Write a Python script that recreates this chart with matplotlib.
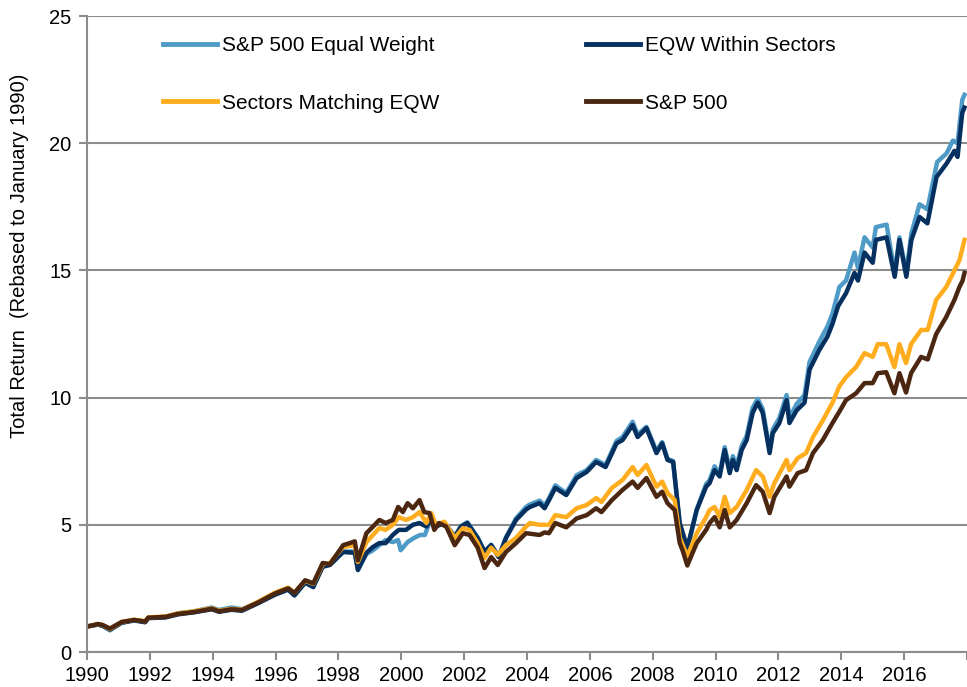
import matplotlib.pyplot as plt

plt.rcParams['font.family'] = ['Liberation Sans', 'DejaVu Sans']

# S&P 500 Equal Weight
ew_years = [1990.0, 1990.35, 1990.5, 1990.73, 1991.1, 1991.5, 1991.85, 1991.95, 1992.5, 1992.9,
            1993.4, 1993.97, 1994.2, 1994.6, 1994.93, 1995.45, 1995.98, 1996.4, 1996.6, 1996.94,
            1997.2, 1997.5, 1997.73, 1998.15, 1998.52, 1998.62, 1998.89, 1999.1, 1999.3, 1999.5,
            1999.73, 1999.9, 1999.98, 2000.2, 2000.4, 2000.6, 2000.75, 2000.95, 2001.1, 2001.37,
            2001.7, 2001.9, 2002.1, 2002.43, 2002.65, 2002.86, 2003.1, 2003.33, 2003.65, 2003.97,
            2004.09, 2004.4, 2004.56, 2004.7, 2004.9, 2005.25, 2005.58, 2005.9, 2006.2, 2006.5,
            2006.85, 2007.04, 2007.36, 2007.52, 2007.8, 2008.12, 2008.3, 2008.47, 2008.65, 2008.86,
            2009.1, 2009.4, 2009.7, 2009.81, 2009.97, 2010.13, 2010.29, 2010.45, 2010.55, 2010.67,
            2010.83, 2010.99, 2011.18, 2011.34, 2011.5, 2011.72, 2011.82, 2012.03, 2012.26, 2012.35,
            2012.58, 2012.83, 2012.99, 2013.3, 2013.56, 2013.72, 2013.94, 2014.15, 2014.42, 2014.53,
            2014.74, 2015.0, 2015.1, 2015.44, 2015.7, 2015.85, 2016.07, 2016.23, 2016.49, 2016.74,
            2017.05, 2017.35, 2017.55, 2017.7, 2017.85, 2017.92]
ew_vals = [1.0, 1.08, 1.03, 0.85, 1.15, 1.25, 1.18, 1.35, 1.38, 1.52,
           1.6, 1.75, 1.65, 1.75, 1.68, 1.95, 2.3, 2.5, 2.28, 2.75,
           2.6, 3.4, 3.45, 3.95, 3.95, 3.25, 3.85, 4.0, 4.2, 4.4,
           4.32, 4.4, 4.0, 4.32, 4.48, 4.6, 4.6, 5.26, 4.95, 5.1,
           4.55, 4.95, 5.1, 4.5, 3.95, 4.22, 3.75, 4.5, 5.25, 5.7,
           5.8, 5.95, 5.75, 6.05, 6.55, 6.25, 6.95, 7.15, 7.55, 7.35,
           8.3, 8.45, 9.05, 8.55, 8.85, 7.9, 8.25, 7.6, 7.5, 5.0,
           4.0, 5.6, 6.6, 6.75, 7.3, 7.0, 8.05, 7.15, 7.7, 7.3,
           8.1, 8.5, 9.6, 9.95, 9.55, 7.95, 8.75, 9.2, 10.1, 9.2,
           9.75, 10.1, 11.4, 12.2, 12.8, 13.3, 14.35, 14.6, 15.7, 15.1,
           16.3, 15.9, 16.7, 16.8, 14.9, 16.3, 14.9, 16.45, 17.6, 17.4,
           19.26, 19.6, 20.1, 20.0, 21.7, 21.9]

# EQW Within Sectors
ws_years = [1990.0, 1990.35, 1990.5, 1990.73, 1991.1, 1991.5, 1991.85, 1991.95, 1992.5, 1992.9,
            1993.4, 1993.97, 1994.2, 1994.6, 1994.93, 1995.45, 1995.98, 1996.4, 1996.6, 1996.94,
            1997.2, 1997.5, 1997.73, 1998.15, 1998.52, 1998.62, 1998.89, 1999.1, 1999.3, 1999.5,
            1999.73, 1999.92, 2000.15, 2000.37, 2000.58, 2000.8, 2000.95, 2001.1, 2001.37, 2001.7,
            2001.9, 2002.1, 2002.43, 2002.65, 2002.86, 2003.1, 2003.33, 2003.65, 2003.97, 2004.09,
            2004.4, 2004.56, 2004.7, 2004.9, 2005.25, 2005.58, 2005.9, 2006.2, 2006.5, 2006.85,
            2007.04, 2007.36, 2007.52, 2007.8, 2008.12, 2008.3, 2008.47, 2008.65, 2008.86, 2009.1,
            2009.4, 2009.7, 2009.81, 2009.97, 2010.13, 2010.29, 2010.45, 2010.55, 2010.67, 2010.83,
            2010.99, 2011.18, 2011.34, 2011.5, 2011.72, 2011.82, 2012.03, 2012.26, 2012.35, 2012.58,
            2012.83, 2012.99, 2013.3, 2013.56, 2013.72, 2013.9, 2014.15, 2014.42, 2014.53, 2014.74,
            2015.0, 2015.1, 2015.44, 2015.7, 2015.85, 2016.07, 2016.23, 2016.49, 2016.74, 2017.03,
            2017.35, 2017.6, 2017.7, 2017.85, 2017.92]
ws_vals = [1.0, 1.08, 1.03, 0.88, 1.15, 1.24, 1.17, 1.33, 1.36, 1.48,
           1.56, 1.68, 1.58, 1.66, 1.62, 1.92, 2.25, 2.45, 2.22, 2.72,
           2.55, 3.35, 3.42, 3.93, 3.9, 3.22, 3.9, 4.13, 4.28, 4.28,
           4.6, 4.8, 4.8, 5.0, 5.07, 4.93, 5.26, 4.93, 5.07, 4.52,
           4.93, 5.07, 4.48, 3.93, 4.2, 3.73, 4.48, 5.19, 5.6, 5.7,
           5.85, 5.65, 5.97, 6.45, 6.17, 6.84, 7.08, 7.47, 7.27, 8.2,
           8.33, 8.92, 8.45, 8.8, 7.82, 8.2, 7.55, 7.47, 5.07, 4.1,
           5.58, 6.5, 6.64, 7.15, 6.9, 7.94, 7.03, 7.55, 7.15, 7.94,
           8.33, 9.4, 9.8, 9.4, 7.82, 8.6, 9.0, 9.9, 9.0, 9.5,
           9.8, 11.1, 11.87, 12.4, 12.9, 13.6, 14.1, 14.9, 14.6, 15.7,
           15.3, 16.2, 16.3, 14.75, 16.2, 14.75, 16.2, 17.1, 16.85, 18.67,
           19.2, 19.7, 19.46, 21.2, 21.4]

# Sectors Matching EQW
sm_years = [1990.0, 1990.35, 1990.5, 1990.73, 1991.1, 1991.5, 1991.85, 1991.95, 1992.5, 1992.9,
            1993.4, 1993.97, 1994.2, 1994.6, 1994.93, 1995.45, 1995.98, 1996.4, 1996.6, 1996.94,
            1997.2, 1997.5, 1997.73, 1998.15, 1998.52, 1998.62, 1998.89, 1999.1, 1999.3, 1999.5,
            1999.73, 1999.92, 2000.15, 2000.37, 2000.58, 2000.8, 2000.95, 2001.1, 2001.37, 2001.7,
            2001.96, 2002.17, 2002.43, 2002.65, 2002.86, 2003.07, 2003.33, 2003.65, 2003.97, 2004.09,
            2004.4, 2004.7, 2004.9, 2005.25, 2005.58, 2005.9, 2006.2, 2006.37, 2006.7, 2007.04,
            2007.36, 2007.52, 2007.8, 2008.12, 2008.3, 2008.47, 2008.7, 2008.86, 2009.1, 2009.4,
            2009.7, 2009.81, 2009.97, 2010.13, 2010.29, 2010.45, 2010.67, 2010.99, 2011.29, 2011.5,
            2011.72, 2011.87, 2012.26, 2012.35, 2012.61, 2012.88, 2013.1, 2013.41, 2013.72, 2013.94,
            2014.15, 2014.47, 2014.74, 2015.0, 2015.16, 2015.43, 2015.69, 2015.85, 2016.06, 2016.22,
            2016.54, 2016.75, 2017.02, 2017.34, 2017.6, 2017.76, 2017.92]
sm_vals = [1.0, 1.1, 1.06, 0.9, 1.18, 1.27, 1.21, 1.36, 1.4, 1.52,
           1.6, 1.72, 1.62, 1.7, 1.66, 1.98, 2.33, 2.53, 2.33, 2.8,
           2.68, 3.45, 3.5, 4.13, 4.2, 3.54, 4.32, 4.6, 4.87, 4.8,
           5.0, 5.3, 5.19, 5.3, 5.5, 5.07, 5.46, 5.0, 5.12, 4.48,
           4.87, 4.8, 4.28, 3.7, 4.1, 3.82, 4.2, 4.48, 4.93, 5.07,
           5.0, 5.0, 5.38, 5.3, 5.65, 5.78, 6.05, 5.9, 6.45, 6.76,
           7.27, 6.96, 7.35, 6.5, 6.7, 6.25, 5.97, 4.5, 3.75, 4.67,
           5.3, 5.58, 5.7, 5.3, 6.1, 5.46, 5.7, 6.37, 7.15, 6.9,
           6.1, 6.64, 7.55, 7.15, 7.62, 7.82, 8.45, 9.1, 9.8, 10.45,
           10.8, 11.2, 11.75, 11.6, 12.1, 12.1, 11.2, 12.1, 11.36, 12.1,
           12.66, 12.66, 13.84, 14.35, 15.0, 15.4, 16.2]

# S&P 500
sp_years = [1990.0, 1990.35, 1990.5, 1990.73, 1991.1, 1991.5, 1991.85, 1991.95, 1992.5, 1992.9,
            1993.4, 1993.97, 1994.2, 1994.6, 1994.93, 1995.45, 1995.98, 1996.4, 1996.6, 1996.94,
            1997.2, 1997.5, 1997.73, 1998.15, 1998.36, 1998.52, 1998.62, 1998.89, 1999.1, 1999.3,
            1999.5, 1999.73, 1999.9, 2000.05, 2000.2, 2000.37, 2000.58, 2000.73, 2000.9, 2001.05,
            2001.2, 2001.43, 2001.7, 2001.96, 2002.17, 2002.43, 2002.65, 2002.86, 2003.07, 2003.33,
            2003.65, 2003.97, 2004.4, 2004.56, 2004.7, 2004.9, 2005.25, 2005.58, 2005.9, 2006.2,
            2006.37, 2006.7, 2007.04, 2007.36, 2007.52, 2007.8, 2008.12, 2008.3, 2008.47, 2008.7,
            2008.86, 2008.95, 2009.1, 2009.4, 2009.7, 2009.81, 2009.97, 2010.13, 2010.29, 2010.45,
            2010.67, 2010.99, 2011.29, 2011.5, 2011.72, 2011.87, 2012.26, 2012.35, 2012.61, 2012.88,
            2013.1, 2013.41, 2013.72, 2013.94, 2014.15, 2014.47, 2014.74, 2015.0, 2015.16, 2015.43,
            2015.69, 2015.85, 2016.06, 2016.22, 2016.54, 2016.75, 2017.02, 2017.34, 2017.6, 2017.76,
            2017.86, 2017.92]
sp_vals = [1.0, 1.1, 1.06, 0.92, 1.18, 1.26, 1.2, 1.35, 1.38, 1.5,
           1.57, 1.7, 1.6, 1.68, 1.65, 1.95, 2.3, 2.5, 2.32, 2.82,
           2.7, 3.5, 3.45, 4.2, 4.28, 4.35, 3.6, 4.67, 4.93, 5.19,
           5.07, 5.19, 5.7, 5.5, 5.85, 5.65, 5.97, 5.5, 5.46, 4.8,
           5.07, 4.93, 4.2, 4.67, 4.6, 4.1, 3.3, 3.73, 3.42, 3.93,
           4.28, 4.67, 4.6, 4.7, 4.67, 5.07, 4.9, 5.25, 5.38, 5.65,
           5.5, 5.97, 6.37, 6.7, 6.45, 6.84, 6.1, 6.3, 5.85, 5.58,
           4.28, 4.0, 3.4, 4.28, 4.8, 5.07, 5.3, 4.9, 5.58, 4.9,
           5.19, 5.85, 6.56, 6.3, 5.46, 6.1, 6.9, 6.5, 7.03, 7.15,
           7.82, 8.33, 9.0, 9.45, 9.9, 10.17, 10.57, 10.57, 10.96, 11.0,
           10.17, 10.96, 10.2, 10.96, 11.6, 11.5, 12.5, 13.17, 13.84, 14.35,
           14.6, 14.9]

x_ticks = list(range(1990, 2019, 2))
x_labels = [str(y) for y in x_ticks[:-1]] + ['']

grey = '#8c8c8c'

fig = plt.figure(figsize=(9.67, 6.87), dpi=100)
ax = fig.add_axes([87 / 967, 1 - 652 / 687, 1 - 87 / 967, (652 - 16) / 687])

l1, = ax.plot(ew_years, ew_vals, color='#4f9bc8', lw=3.2, label='S&P 500 Equal Weight')
l2, = ax.plot(ws_years, ws_vals, color='#06305f', lw=3.2, label='EQW Within Sectors')
l3, = ax.plot(sm_years, sm_vals, color='#ffad1f', lw=3.2, label='Sectors Matching EQW')
l4, = ax.plot(sp_years, sp_vals, color='#4b2712', lw=3.2, label='S&P 500')

ax.set_xlim(1990, 2018)
ax.set_ylim(0, 25)
ax.set_yticks([0, 5, 10, 15, 20, 25])
ax.set_xticks(x_ticks)
ax.set_xticklabels(x_labels)
ax.yaxis.grid(True, color=grey, lw=1.5)
ax.set_axisbelow(True)
for s in ['top', 'right']:
    ax.spines[s].set_visible(False)
for s in ['left', 'bottom']:
    ax.spines[s].set_color(grey)
    ax.spines[s].set_linewidth(1.5)
ax.tick_params(axis='both', colors=grey, labelcolor='black', labelsize=14.5,
               length=6, width=1.5, direction='out')
ax.tick_params(axis='x', pad=4)
ax.tick_params(axis='y', pad=5)

fig.text(20 / 967, 1 - 256 / 687, 'Total Return  (Rebased to January 1990)',
         rotation=90, ha='center', va='center', fontsize=14.5)

leg_kw = dict(frameon=False, fontsize=15, loc='upper left', handlelength=2.6,
              handletextpad=0.25, borderpad=0, borderaxespad=0, labelspacing=1.85)
leg1 = fig.legend(handles=[l1, l3], bbox_to_anchor=(163 / 967, 1 - 36 / 687), **leg_kw)
leg2 = fig.legend(handles=[l2, l4], bbox_to_anchor=(586 / 967, 1 - 36 / 687), **leg_kw)
for leg in (leg1, leg2):
    for h in leg.legend_handles:
        h.set_linewidth(3.5)

fig.savefig('out.png', dpi=100)
